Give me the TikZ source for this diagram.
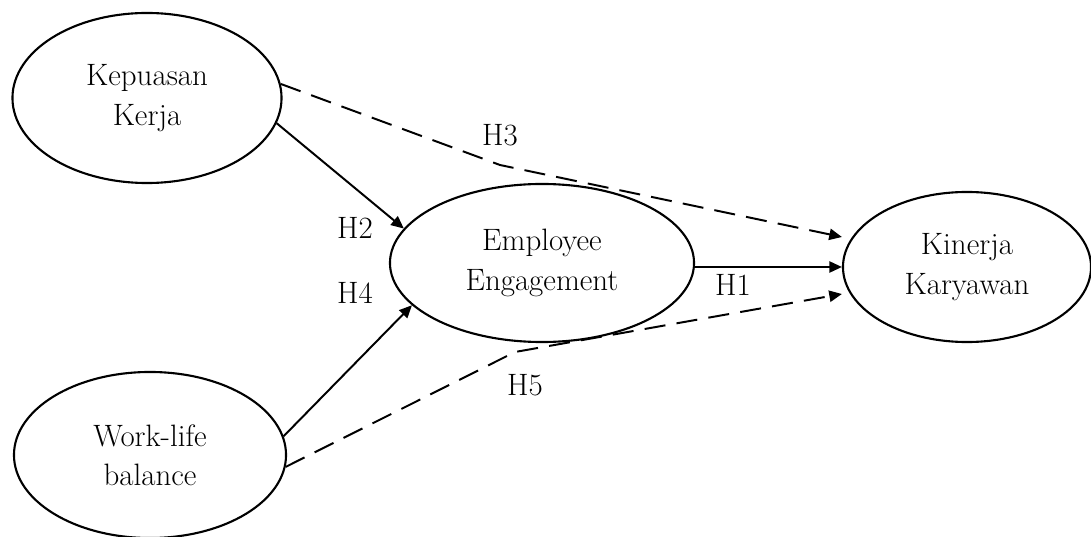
\documentclass[tikz,border=0pt]{standalone}
\usetikzlibrary{shapes.geometric,arrows.meta,calc}
\begin{document}
\begin{tikzpicture}[x=0.025cm,y=-0.025cm,
  construct/.style={ellipse, draw, line width=1.5pt, inner sep=0pt, align=center,
    font=\fontsize{22}{28}\selectfont},
  hyp/.style={line width=1.4pt, -{Triangle[length=9pt,width=8pt]}},
  hypdash/.style={hyp, dash pattern=on 15pt off 8pt},
  hlabel/.style={font=\fontsize{22}{24}\selectfont, inner sep=0pt}]
\useasboundingbox (0,0) rectangle (1091,537);
\node[construct, minimum width=6.725cm, minimum height=4.25cm] (kp) at (147,98) {Kepuasan\\Kerja};
\node[construct, minimum width=7.6cm, minimum height=3.95cm] (ee) at (542,263) {Employee\\Engagement};
\node[construct, minimum width=6.2cm, minimum height=3.75cm] (kk) at (967,267) {Kinerja\\Karyawan};
\node[construct, minimum width=6.8cm, minimum height=4.15cm] (wl) at (150,455) {Work-life\\balance};
\coordinate (h3k) at (500,165);
\coordinate (h5k) at (515,352);
\draw[hyp] (kp.-11) -- (ee.166);
\draw[hyp] (wl.8) -- (ee.-162);
\draw[hyp] (ee.east |- kk.west) -- (kk.west);
\draw[hypdash] (kp.6) -- (h3k) -- ($(kk.west)+(0,-30)$);
\draw[hypdash] (wl.-5) -- (h5k) -- ($(kk.west)+(0,27)$);
\node[hlabel] (l1) at (733,285) {H1};
\node[hlabel] (l2) at (355,228) {H2};
\node[hlabel] (l3) at (500,135) {H3};
\node[hlabel] (l4) at (355,293) {H4};
\node[hlabel] (l5) at (525,385) {H5};
\end{tikzpicture}
\end{document}
